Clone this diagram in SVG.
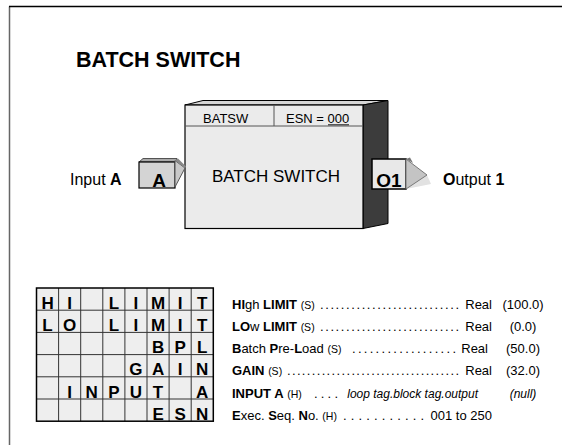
<svg xmlns="http://www.w3.org/2000/svg" width="562" height="445" viewBox="0 0 562 445">
<style>
text{font-family:"Liberation Sans",Arial,Helvetica,sans-serif;fill:#000}
.b{font-weight:bold}
.m{text-anchor:middle}
.e{text-anchor:end}
.i{font-style:italic}
.r{font-size:13px}
.s{font-size:10.5px;font-weight:normal}
.g{font-size:17px;font-weight:bold;text-anchor:middle}
.cell{fill:#eeeeee;stroke:none}
.gl{stroke:#333;stroke-width:1;fill:none}
</style>
<rect width="562" height="445" fill="#ffffff"/>
<path d="M9.5 445V6.5" stroke="#666" stroke-width="1.5" fill="none"/>
<path d="M9 6.5H562" stroke="#000" stroke-width="1.5" fill="none"/>

<text x="76" y="67" font-size="21.5" class="b">BATCH SWITCH</text>

<g id="connectors"></g>

<g id="batch-switch">
  <polygon points="185,105 203,100.5 388,100.5 363,105" fill="#d6d6d6" stroke="#000" stroke-width="1"/>
  <polygon points="363,105 388,100.5 388,223.5 363,228.5" fill="#3c3c3c" stroke="#000" stroke-width="1"/>
  <rect x="185" y="105" width="178" height="123.5" fill="#ebebeb" stroke="#000" stroke-width="1.2"/>
  <line x1="185" y1="126" x2="363" y2="126" stroke="#555" stroke-width="1"/>
  <line x1="274" y1="105" x2="274" y2="126" stroke="#555" stroke-width="1"/>
  <text x="203" y="123" font-size="13">BATSW</text>
  <text x="286" y="123" font-size="13">ESN = 000</text>
  <line x1="328" y1="124.8" x2="349" y2="124.8" stroke="#000" stroke-width="0.9"/>
  <text x="276" y="182" font-size="17" class="m">BATCH SWITCH</text>
</g>

<g id="input-a">
  <polygon points="139,162 143,158.5 177,158.5 175,162" fill="#aaaaaa" stroke="#333" stroke-width="0.8"/>
  <rect x="139" y="162" width="36" height="26" fill="#d4d4d4" stroke="#000" stroke-width="1.2"/>
  <polygon points="175,160.5 185,168 175,187" fill="#c8c8c8" stroke="#555" stroke-width="1"/>
  <polygon points="175,160.5 178,158.5 186,166.5 185,168" fill="#888888"/>
  <text x="159" y="186.5" font-size="19" class="b m">A</text>
  <text x="70" y="185" font-size="16">Input <tspan class="b">A</tspan></text>
</g>

<g id="output-1">
  <polygon points="406,189 431,184 427,175" fill="#e2e2e2"/>
  <rect x="372" y="159" width="34" height="30" fill="#e8e8e8" stroke="#000" stroke-width="1.5"/>
  <polygon points="406,159 427,175 406,189" fill="#c4c4c4" stroke="#777" stroke-width="1"/>
  <polygon points="406,159 410,157.5 413,163" fill="#777777"/>
  <text x="389" y="187.3" font-size="19" class="b m">O1</text>
  <text x="443" y="185" font-size="16"><tspan class="b">O</tspan>utput <tspan class="b">1</tspan></text>
</g>

<g id="parameter-grid">
  <rect x="36.5" y="288" width="176.8" height="133.2" class="cell"/>
  <path class="gl" d="M58.6 288V421.2M80.7 288V421.2M102.8 288V421.2M124.9 288V421.2M147 288V421.2M169.1 288V421.2M191.2 288V421.2M36.5 310.2H213.3M36.5 332.4H213.3M36.5 354.6H213.3M36.5 376.8H213.3M36.5 399H213.3"/>
  <rect x="36.5" y="288" width="176.8" height="133.2" fill="none" stroke="#000" stroke-width="1.5"/>
  <text class="g" y="308.7"><tspan x="47.55">H</tspan><tspan x="69.65">I</tspan><tspan x="113.85">L</tspan><tspan x="135.95">I</tspan><tspan x="158.05">M</tspan><tspan x="180.15">I</tspan><tspan x="202.25">T</tspan></text>
  <text class="g" y="330.9"><tspan x="47.55">L</tspan><tspan x="69.65">O</tspan><tspan x="113.85">L</tspan><tspan x="135.95">I</tspan><tspan x="158.05">M</tspan><tspan x="180.15">I</tspan><tspan x="202.25">T</tspan></text>
  <text class="g" y="353.1"><tspan x="158.05">B</tspan><tspan x="180.15">P</tspan><tspan x="202.25">L</tspan></text>
  <text class="g" y="375.3"><tspan x="135.95">G</tspan><tspan x="158.05">A</tspan><tspan x="180.15">I</tspan><tspan x="202.25">N</tspan></text>
  <text class="g" y="397.5"><tspan x="69.65">I</tspan><tspan x="91.75">N</tspan><tspan x="113.85">P</tspan><tspan x="135.95">U</tspan><tspan x="158.05">T</tspan><tspan x="202.25">A</tspan></text>
  <text class="g" y="419.7"><tspan x="158.05">E</tspan><tspan x="180.15">S</tspan><tspan x="202.25">N</tspan></text>
</g>

<g id="parameter-list">
  <text class="r" x="232" y="308.7"><tspan class="b">HI</tspan>gh <tspan class="b">LIMIT</tspan> <tspan class="s">(S)</tspan></text>
  <text class="r" x="320" y="308.7" textLength="139" lengthAdjust="spacing">...........................</text>
  <text class="r e" x="492" y="308.7">Real</text>
  <text class="r m" x="523" y="308.7">(100.0)</text>

  <text class="r" x="232" y="330.9"><tspan class="b">LO</tspan>w <tspan class="b">LIMIT</tspan> <tspan class="s">(S)</tspan></text>
  <text class="r" x="320" y="330.9" textLength="139" lengthAdjust="spacing">...........................</text>
  <text class="r e" x="492" y="330.9">Real</text>
  <text class="r m" x="523" y="330.9">(0.0)</text>

  <text class="r" x="232" y="353.1"><tspan class="b">B</tspan>atch <tspan class="b">P</tspan>re-<tspan class="b">L</tspan>oad <tspan class="s">(S)</tspan></text>
  <text class="r" x="352" y="353.1" textLength="104" lengthAdjust="spacing">..................</text>
  <text class="r e" x="488" y="353.1">Real</text>
  <text class="r m" x="523" y="353.1">(50.0)</text>

  <text class="r" x="232" y="375.3"><tspan class="b">GAIN</tspan> <tspan class="s">(S)</tspan></text>
  <text class="r" x="287" y="375.3" textLength="172" lengthAdjust="spacing">...................................</text>
  <text class="r e" x="492" y="375.3">Real</text>
  <text class="r m" x="523" y="375.3">(32.0)</text>

  <text class="r" x="232" y="397.5"><tspan class="b">INPUT A</tspan> <tspan class="s">(H)</tspan></text>
  <text class="r" x="314" y="397.5" textLength="24" lengthAdjust="spacing">....</text>
  <text class="i e" x="478" y="397.5" font-size="12">loop tag.block tag.output</text>
  <text class="i m" x="523" y="397.5" font-size="12">(null)</text>

  <text class="r" x="232" y="419.7"><tspan class="b">E</tspan>xec. <tspan class="b">S</tspan>eq. <tspan class="b">N</tspan>o. <tspan class="s">(H)</tspan></text>
  <text class="r" x="343" y="419.7" textLength="81" lengthAdjust="spacing">...........</text>
  <text class="r e" x="492" y="419.7">001 to 250</text>
</g>
</svg>
